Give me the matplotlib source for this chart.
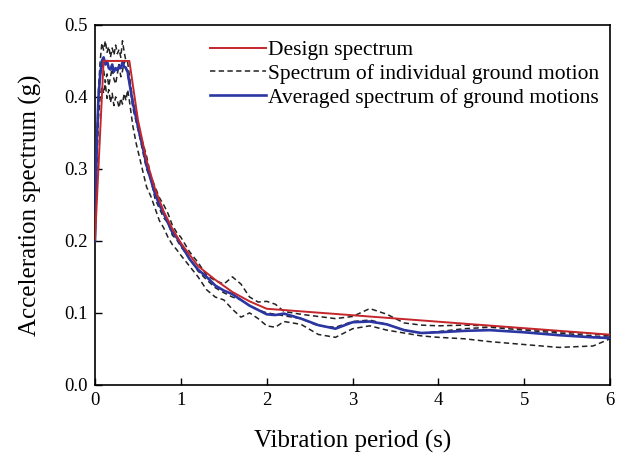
import matplotlib
matplotlib.use("Agg")
import matplotlib.pyplot as plt

# periods (s)
T_design = [0.0, 0.1, 0.4, 0.5, 0.6, 0.7, 0.8, 0.9, 1.0, 1.2, 1.4, 1.6, 1.8, 2.0, 6.0]
Sa_design = [0.2025, 0.45, 0.45, 0.368, 0.312, 0.272, 0.241, 0.217, 0.197,
             0.165, 0.146, 0.129, 0.116, 0.1057, 0.0697]

T = [0.00, 0.02, 0.04, 0.06, 0.08, 0.10, 0.12, 0.14, 0.16, 0.18, 0.20, 0.22, 0.24,
     0.26, 0.28, 0.30, 0.32, 0.34, 0.36, 0.38, 0.40, 0.44, 0.48, 0.52, 0.56, 0.60,
     0.65, 0.70, 0.75, 0.80, 0.85, 0.90, 0.95, 1.00, 1.10, 1.20, 1.30, 1.40, 1.50,
     1.60, 1.70, 1.80, 1.90, 2.00, 2.10, 2.20, 2.40, 2.60, 2.80, 3.00, 3.20, 3.40,
     3.60, 3.80, 4.00, 4.30, 4.60, 5.00, 5.40, 5.80, 6.00]

gm_high = [0.20, 0.33, 0.41, 0.45, 0.475, 0.465, 0.478, 0.462, 0.470, 0.455, 0.468,
           0.458, 0.472, 0.460, 0.466, 0.455, 0.478, 0.462, 0.450, 0.448, 0.430,
           0.395, 0.375, 0.350, 0.335, 0.318, 0.290, 0.275, 0.260, 0.250, 0.238,
           0.222, 0.212, 0.205, 0.185, 0.170, 0.152, 0.145, 0.140, 0.150, 0.140,
           0.122, 0.115, 0.116, 0.112, 0.102, 0.098, 0.095, 0.092, 0.095, 0.106,
           0.098, 0.086, 0.083, 0.082, 0.083, 0.082, 0.078, 0.074, 0.071, 0.068]

gm_low = [0.20, 0.30, 0.37, 0.40, 0.415, 0.405, 0.418, 0.398, 0.410, 0.392, 0.405,
          0.388, 0.400, 0.395, 0.385, 0.398, 0.390, 0.405, 0.395, 0.410, 0.395,
          0.360, 0.335, 0.315, 0.295, 0.275, 0.262, 0.245, 0.228, 0.218, 0.205,
          0.195, 0.188, 0.180, 0.165, 0.150, 0.132, 0.122, 0.118, 0.105, 0.094,
          0.100, 0.092, 0.082, 0.080, 0.088, 0.084, 0.070, 0.066, 0.078, 0.082,
          0.076, 0.072, 0.068, 0.066, 0.064, 0.060, 0.056, 0.052, 0.054, 0.064]

gm_mid = [0.20, 0.32, 0.40, 0.43, 0.445, 0.438, 0.420, 0.432, 0.415, 0.428, 0.440,
          0.425, 0.418, 0.432, 0.445, 0.428, 0.436, 0.450, 0.440, 0.430, 0.420,
          0.385, 0.365, 0.345, 0.322, 0.300, 0.285, 0.258, 0.245, 0.232, 0.225,
          0.208, 0.202, 0.192, 0.176, 0.158, 0.146, 0.135, 0.128, 0.122, 0.118,
          0.110, 0.104, 0.100, 0.098, 0.096, 0.092, 0.082, 0.080, 0.088, 0.090,
          0.084, 0.076, 0.072, 0.074, 0.078, 0.080, 0.076, 0.072, 0.068, 0.066]

gm_avg = [0.20, 0.33, 0.40, 0.43, 0.450, 0.455, 0.445, 0.450, 0.440, 0.438, 0.445,
          0.435, 0.440, 0.437, 0.443, 0.440, 0.448, 0.442, 0.440, 0.435, 0.420,
          0.392, 0.370, 0.348, 0.328, 0.305, 0.285, 0.265, 0.250, 0.238, 0.225,
          0.212, 0.205, 0.195, 0.175, 0.160, 0.150, 0.138, 0.131, 0.126, 0.118,
          0.110, 0.104, 0.098, 0.097, 0.099, 0.092, 0.083, 0.078, 0.087, 0.088,
          0.084, 0.076, 0.072, 0.073, 0.075, 0.076, 0.073, 0.069, 0.066, 0.065]

plt.rcParams['font.family'] = ['Liberation Serif', 'DejaVu Serif']

fig = plt.figure(figsize=(6.17, 4.62), dpi=100)
ax = fig.add_axes([0.154, 0.167, 0.835, 0.779])

ax.plot(T_design, Sa_design, color="#c4262b", lw=1.4, label="Design spectrum", zorder=4)
for i, gm in enumerate([gm_high, gm_low, gm_mid]):
    ax.plot(T, gm, color="#222222", lw=1.1, ls=(0, (3.5, 2.2)), zorder=2,
            label="Spectrum of individual ground motion" if i == 0 else None)
ax.plot(T, gm_avg, color="#2b36a3", lw=1.9, label="Averaged spectrum of ground motions", zorder=3)

h, l = ax.get_legend_handles_labels()
ax.legend(h, l, loc="upper right", bbox_to_anchor=(1.008, 1.0), frameon=False,
          fontsize=15.5, handlelength=2.6, handletextpad=0.1, labelspacing=0.18,
          borderaxespad=0.3)

ax.set_xlim(0, 6)
ax.set_ylim(0, 0.5)
ax.set_xticks([0, 1, 2, 3, 4, 5, 6])
ax.set_yticks([0.0, 0.1, 0.2, 0.3, 0.4, 0.5])
ax.set_yticklabels(["0.0", "0.1", "0.2", "0.3", "0.4", "0.5"])
ax.tick_params(direction="in", length=5, width=1, labelsize=13.5, pad=5)
for s in ax.spines.values():
    s.set_linewidth(1.2)

ax.set_xlabel("Vibration period (s)", fontsize=18, labelpad=15)
ax.set_ylabel("Acceleration spectrum (g)", fontsize=18, labelpad=16)

plt.savefig("out.png", dpi=100)
